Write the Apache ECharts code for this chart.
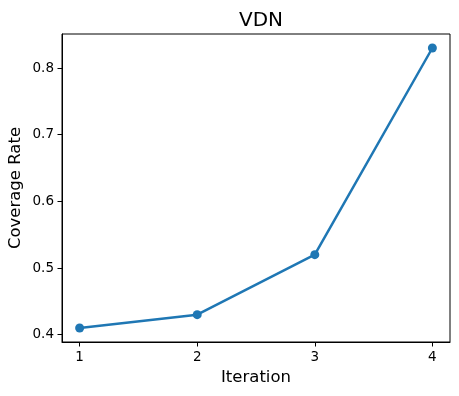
<!DOCTYPE html>
<html><head><meta charset="utf-8">
<script src="https://cdn.jsdelivr.net/npm/echarts@6/dist/echarts.min.js"></script>
<style>html,body{margin:0;padding:0;background:#fff}#c{width:459px;height:396px}</style>
</head><body><div id="c"></div>
<script>
const iterations = [1, 2, 3, 4];
const coverage = [0.41, 0.43, 0.52, 0.83];
const xTicks = [1, 2, 3, 4];
const yTicks = [0.4, 0.5, 0.6, 0.7, 0.8];
const titleText = 'VDN';
const xName = 'Iteration';
const yName = 'Coverage Rate';

const font = 'DejaVu Sans';
const chart = echarts.init(document.getElementById('c'), null, {renderer: 'canvas'});
const xSpan = iterations[iterations.length-1] - iterations[0];
const yMin = Math.min(...coverage), yMax = Math.max(...coverage);
const ySpan = yMax - yMin;
chart.setOption({
  animation: false,
  backgroundColor: '#fff',
  title: {text: titleText, left: 256, textAlign: 'center', top: 6,
    textStyle: {fontFamily: font, fontSize: 20, fontWeight: 'normal', color: '#000'}},
  grid: {left: 62, right: 9, top: 34, bottom: 54, containLabel: false, outerBoundsMode: 'none',
    show: true, borderColor: '#000', borderWidth: 1, backgroundColor: 'transparent'},
  xAxis: {
    type: 'value',
    min: iterations[0] - 0.05 * xSpan, max: iterations[iterations.length-1] + 0.05 * xSpan,
    name: xName, nameLocation: 'middle', nameGap: 27, nameMoveOverlap: false,
    nameTextStyle: {fontFamily: font, fontSize: 16.5, color: '#000'},
    axisLine: {show: true, onZero: false, lineStyle: {color: '#000', width: 1}},
    axisTick: {show: true, length: 4.5, customValues: xTicks, lineStyle: {color: '#000'}},
    axisLabel: {customValues: xTicks, margin: 8, fontFamily: font, fontSize: 13.5, color: '#000'},
    splitLine: {show: false}
  },
  yAxis: {
    type: 'value',
    min: yMin - 0.05 * ySpan, max: yMax + 0.05 * ySpan,
    name: yName, nameLocation: 'middle', nameGap: 38, nameMoveOverlap: false,
    nameTextStyle: {fontFamily: font, fontSize: 16.5, color: '#000'},
    axisLine: {show: true, onZero: false, lineStyle: {color: '#000', width: 1}},
    axisTick: {show: true, length: 4.5, customValues: yTicks, lineStyle: {color: '#000'}},
    axisLabel: {customValues: yTicks, margin: 8, fontFamily: font, fontSize: 13.5, color: '#000',
      formatter: v => v.toFixed(1)},
    splitLine: {show: false}
  },
  series: [{
    type: 'line',
    data: iterations.map((x, i) => [x, coverage[i]]),
    lineStyle: {color: '#1f77b4', width: 2.5},
    itemStyle: {color: '#1f77b4'},
    symbol: 'circle', symbolSize: 9, showSymbol: true,
    clip: false
  }]
});
</script></body></html>
